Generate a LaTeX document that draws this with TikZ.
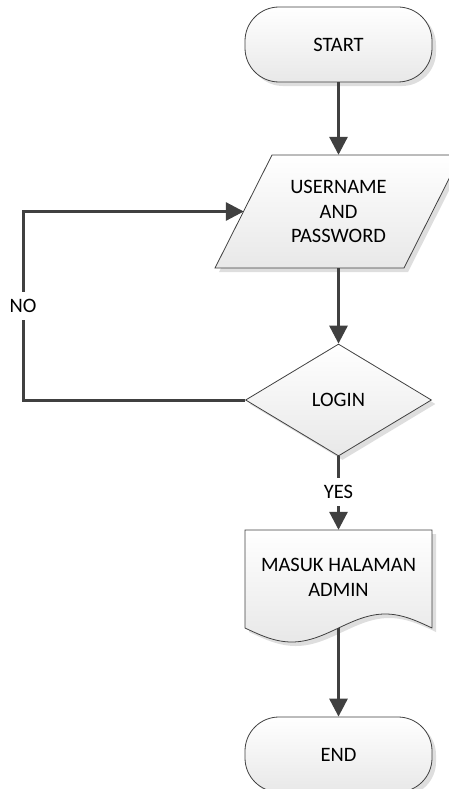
\documentclass[tikz,border=0pt]{standalone}
\usepackage{fontspec}
\setmainfont{Carlito}
\usetikzlibrary{arrows.meta,shapes.geometric,shadows}

\begin{document}
\begin{tikzpicture}[x=1bp,y=-1bp,
  font=\fontsize{20.5bp}{24.5bp}\selectfont,
  shapefill/.style={top color=white, bottom color=black!9, draw=black!75, line width=0.8bp,
    drop shadow={shadow xshift=4bp, shadow yshift=-4bp, fill=black!13, opacity=1}},
  terminal/.style={shapefill, rectangle, rounded corners=34bp, minimum width=187bp,
    minimum height=75bp, inner sep=0pt},
  decision/.style={shapefill, diamond, aspect=1.66, minimum width=186bp,
    minimum height=112bp, inner sep=0pt},
  textbox/.style={rectangle, draw=none, inner sep=0pt, align=center},
  conn/.style={draw=black!75, line width=3bp, -{Triangle[length=18bp,width=18bp]}},
  lab/.style={fill=white, inner xsep=1bp, inner ysep=7.5bp}]

\useasboundingbox (0,0) rectangle (449,789);
\clip (0,0) rectangle (449,789);

% terminals and decision
\node[terminal] (start) at (338.5,44.5) {START};
\node[terminal] (finish) at (338.5,754.5) {END};
\node[decision] (login) at (338.5,400) {LOGIN};

% input parallelogram
\path[shapefill] (215,268) -- (272,155) -- (461,155) -- (404,268) -- cycle;
\node[textbox, minimum width=189bp, minimum height=113bp] (user) at (338.5,211.5)
  {USERNAME\\AND\\PASSWORD};

% document with wavy bottom edge (one sine period across the width)
\path[shapefill] (245,530) -- (432,530) -- (432,628)
  -- plot[domain=360:0, samples=61, variable=\t] ({245+0.519444*\t},{628+14*sin(\t)}) -- cycle;
\node[textbox, minimum width=187bp, minimum height=98bp] (doc) at (338.5,579)
  {\raisebox{4.8bp}{\begin{tabular}{@{}c@{}}MASUK HALAMAN\\ADMIN\end{tabular}}};

% flow
\coordinate (loopcorner) at (23,400);
\draw[conn] (start.south) -- (user.north);
\draw[conn] (user.south) -- (login.north);
\draw[conn] (login.south) -- (doc.north);
\draw[conn] (doc.south) -- (finish.north);
\draw[conn] (login.west) -- (loopcorner) |- (user.west);

% branch labels
\node[lab] (no) at (23,306) {NO};
\node[lab] (yes) at (338.5,492) {YES};
\end{tikzpicture}
\end{document}
